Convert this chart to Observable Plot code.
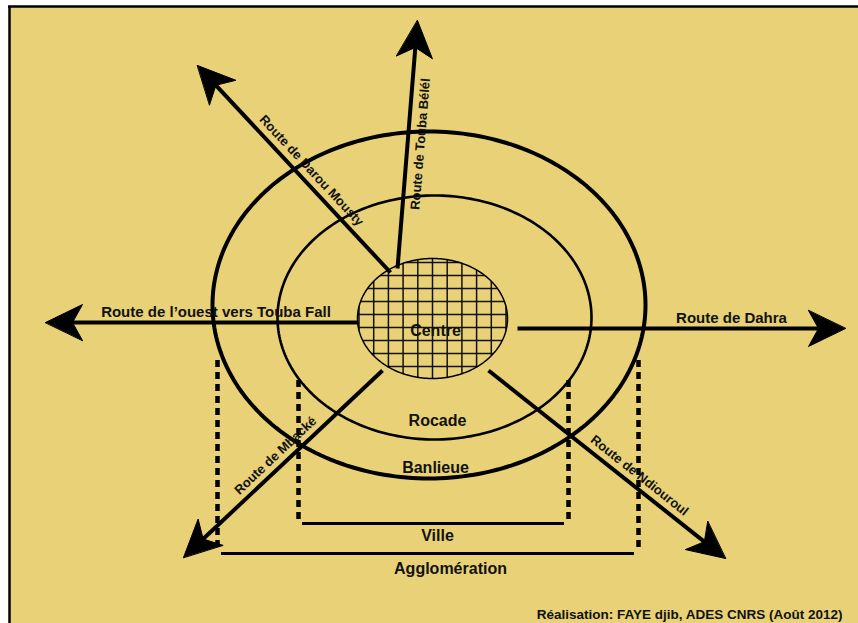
<!DOCTYPE html>
<html><head><meta charset="utf-8">
<script src="https://cdn.jsdelivr.net/npm/d3@7"></script>
<script src="https://cdn.jsdelivr.net/npm/@observablehq/plot@0.6"></script>
<style>html,body{margin:0;padding:0;background:#fff;} svg{display:block}</style>
</head><body><div id="chart"></div>
<script>
// ---- Diagram data (in drawing units, 858 x 623) ----
// Concentric zones: outer ring (Banlieue limit), Rocade ring, Centre
const zoneNames = ["Banlieue", "Rocade", "Centre"];
const zoneCx = [428.5, 434, 432];
const zoneCy = [304.5, 317, 318];
const zoneRx = [216.5, 157, 75];
const zoneRy = [173.5, 122, 60];

// Zone labels
const zoneLabels = ["Centre", "Rocade", "Banlieue"];
const zoneLabelX = [435, 437, 435];
const zoneLabelY = [330, 420, 467];

// Roads (start at the centre, tip of arrow outside)
const roadNames = ["Route de l\u2019ouest vers Touba Fall", "Route de Dahra", "Route de Touba Bélél", "Route de Darou Mousty", "Route de Mbacké", "Route de Ndiouroul"];
const roadStartX = [358, 517, 397, 390, 382, 488];
const roadStartY = [322, 328, 268, 272, 370, 370];
const roadTipX = [45, 845, 417, 197, 183, 725];
const roadTipY = [322, 328, 20, 65, 557, 558];
const roadLabelX = [215.5, 731, 420, 311, 275, 639];
const roadLabelY = [312, 318, 143.5, 170, 455, 475];

// Extent markers (dashed verticals + horizontal bars)
const extentNames = ["Ville", "Agglomération"];
const extentLeftX = [298, 217];
const extentRightX = [568, 638];
const extentTopY = [380, 360];
const extentBarY = [523, 553];
const extentLabelX = [437, 450];
const extentLabelY = [535, 568];

const caption = "Réalisation: FAYE djib, ADES CNRS (Août 2012)";
const captionX = 842, captionY = 614;
const frameLeft = 9, frameTop = 6;

// ---- Build tables ----
const W = 858, H = 623;
const BG = "#e8d176";
const FONT = "'Liberation Sans', Arial, sans-serif";

const ringPts = [];
zoneNames.forEach((z, i) => {
  for (let k = 0; k < 240; k++) {
    const a = 2 * Math.PI * k / 240;
    ringPts.push({zone: z, x: zoneCx[i] + zoneRx[i] * Math.cos(a), y: zoneCy[i] + zoneRy[i] * Math.sin(a)});
  }
});

// Hatch grid inside the Centre ellipse (texture)
const ci = 2, cx = zoneCx[ci], cy = zoneCy[ci], rx = zoneRx[ci], ry = zoneRy[ci];
const hatch = [];
{
  const xs = [];
  for (let x = cx; x < cx + rx; x += 14.7) xs.push(x);
  for (let x = cx - 14.7; x > cx - rx; x -= 14.7) xs.push(x);
  xs.forEach(x => { const t = (x - cx) / rx; const h = ry * Math.sqrt(1 - t * t); hatch.push({x1: x, x2: x, y1: cy - h, y2: cy + h}); });
  const ys = [];
  for (let y = cy - 4; y < cy + ry; y += 13) ys.push(y);
  for (let y = cy - 17; y > cy - ry; y -= 13) ys.push(y);
  ys.forEach(y => { const t = (y - cy) / ry; const w = rx * Math.sqrt(1 - t * t); hatch.push({x1: cx - w, x2: cx + w, y1: y, y2: y}); });
}

const roads = roadNames.map((name, i) => {
  const dx = roadTipX[i] - roadStartX[i], dy = roadTipY[i] - roadStartY[i];
  const len = Math.hypot(dx, dy), ux = dx / len, uy = dy / len;
  let ang = Math.atan2(dy, dx) * 180 / Math.PI;
  if (ang > 90) ang -= 180; if (ang <= -90) ang += 180;
  if (Math.abs(ang) < 1) ang = 0;
  return {name, x1: roadStartX[i], y1: roadStartY[i], x2: roadTipX[i] - ux * 24, y2: roadTipY[i] - uy * 24,
          ux, uy, tx: roadTipX[i], ty: roadTipY[i], lx: roadLabelX[i], ly: roadLabelY[i], rot: ang,
          size: ang === 0 ? 15 : 13};
});
const heads = [];
roads.forEach(r => {
  const L = 37, w = 18, N = 27, nx = -r.uy, ny = r.ux;
  heads.push({road: r.name, x: r.tx, y: r.ty});
  heads.push({road: r.name, x: r.tx - L * r.ux + w * nx, y: r.ty - L * r.uy + w * ny});
  heads.push({road: r.name, x: r.tx - N * r.ux, y: r.ty - N * r.uy});
  heads.push({road: r.name, x: r.tx - L * r.ux - w * nx, y: r.ty - L * r.uy - w * ny});
});

const dashes = [];
extentNames.forEach((n, i) => {
  dashes.push({x: extentLeftX[i], y1: extentTopY[i], y2: extentBarY[i] - 1});
  dashes.push({x: extentRightX[i], y1: extentTopY[i], y2: extentBarY[i] - 1});
});
const bars = extentNames.map((n, i) => ({name: n, x1: extentLeftX[i] + 4, x2: extentRightX[i] - 4, y: extentBarY[i], lx: extentLabelX[i], ly: extentLabelY[i]}));
const ringWidth = {"Banlieue": 4, "Rocade": 2.6, "Centre": 1.5};

const chart = Plot.plot({
  width: W, height: H, margin: 0,
  x: {domain: [0, W], range: [0, W], axis: null},
  y: {domain: [0, H], range: [0, H], axis: null},
  style: {background: "#fff", fontFamily: FONT},
  marks: [
    Plot.rect([{x1: frameLeft, y1: frameTop, x2: W, y2: H}], {x1: "x1", y1: "y1", x2: "x2", y2: "y2", fill: BG}),
    Plot.ruleY([frameTop], {x1: frameLeft - 1, x2: W, stroke: "#000", strokeWidth: 2.5}),
    Plot.ruleX([frameLeft], {y1: frameTop, y2: H, stroke: "#000", strokeWidth: 2.5}),
    Plot.link(hatch, {x1: "x1", y1: "y1", x2: "x2", y2: "y2", stroke: "#111", strokeWidth: 1.5}),
    ...zoneNames.map(z => Plot.line(ringPts.filter(d => d.zone === z), {x: "x", y: "y", curve: "linear-closed", stroke: "#000", strokeWidth: ringWidth[z]})),
    Plot.ruleX(dashes, {x: "x", y1: "y1", y2: "y2", stroke: "#000", strokeWidth: 4.5, strokeDasharray: "7,5"}),
    Plot.ruleY(bars, {y: "y", x1: "x1", x2: "x2", stroke: "#000", strokeWidth: 3}),
    Plot.link(roads, {x1: "x1", y1: "y1", x2: "x2", y2: "y2", stroke: "#000", strokeWidth: 4}),
    Plot.line(heads, {x: "x", y: "y", z: "road", curve: "linear-closed", fill: "#000", stroke: "#000", strokeWidth: 1}),
    Plot.text(roads, {x: "lx", y: "ly", text: "name", rotate: "rot", fontSize: d => d.size, fontWeight: "bold", fill: "#111"}),
    Plot.text(zoneLabels, {x: (d, i) => zoneLabelX[i], y: (d, i) => zoneLabelY[i], text: d => d, fontSize: 16, fontWeight: "bold", fill: "#111"}),
    Plot.text(bars, {x: "lx", y: "ly", text: "name", fontSize: 16, fontWeight: "bold", fill: "#111"}),
    Plot.text([caption], {x: captionX, y: captionY, text: d => d, textAnchor: "end", fontSize: 13.5, fontWeight: "bold", fill: "#111"})
  ]
});
document.getElementById("chart").appendChild(chart);
</script>
</body></html>
